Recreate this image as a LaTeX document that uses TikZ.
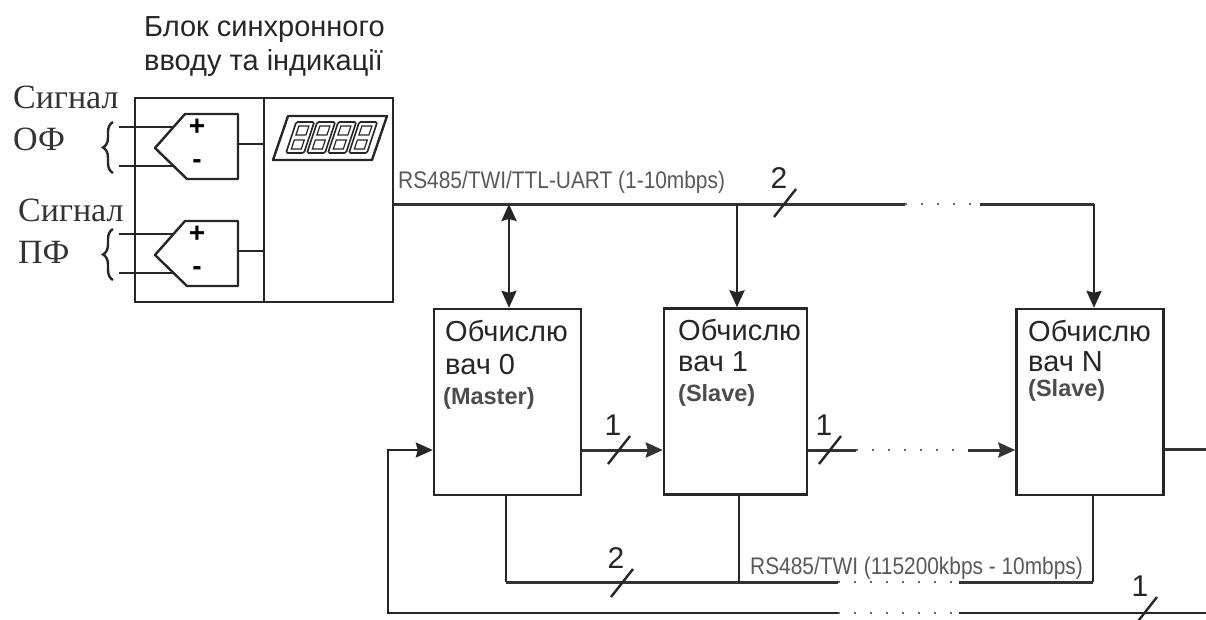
\documentclass[tikz,border=0pt]{standalone}
\usepackage{fontspec}
\usepackage{graphicx}
\setmainfont{Liberation Sans}
\newfontfamily\sigfont{Liberation Serif}
\usetikzlibrary{arrows.meta,decorations.pathreplacing}
\tikzset{
  wire/.style={line width=2.4pt,draw=black!85},
  bus/.style={line width=3pt,draw=black!80},
  gap/.style={line width=2.4pt,draw=black!60,dash pattern=on 2pt off 14pt},
  block/.style={draw=black!85,line width=2.4pt,fill=white,inner sep=0pt,minimum width=147pt,minimum height=186pt},
  title/.style={font=\fontsize{29}{34}\selectfont,align=left,text=black!85},
  siglabel/.style={font=\fontsize{34}{38}\sigfont,anchor=west,inner sep=0pt,text=black!80},
  complabel/.style={font=\fontsize{29}{33}\selectfont,anchor=west,inner sep=0pt,text=black!85},
  rolelabel/.style={font=\fontsize{23.5}{26}\selectfont\bfseries,anchor=west,inner sep=0pt,text=black!70},
  buslabel/.style={font=\fontsize{24}{26}\selectfont,anchor=west,inner sep=0pt,text=black!65},
  ticklabel/.style={font=\fontsize{30}{32}\selectfont,inner sep=0pt,text=black!85}
}
\begin{document}
\begin{tikzpicture}[x=1pt,y=-1pt,>={Stealth[length=17pt,width=15pt,inset=2pt]}]
    \useasboundingbox (0,0) rectangle (1206,619);

    % input and display unit
    \node[title,anchor=west,inner sep=0pt] (unittitle) at (144,47) {Блок синхронного\\вводу та індикації};
    \node[draw=black!85,line width=2.4pt,inner sep=0pt,minimum width=258pt,minimum height=204pt] (unit) at (264,200) {};
    \draw[wire] (unit.north -| 264,0) -- (unit.south -| 264,0);

    \node[siglabel] (sigA) at (13,97) {Сигнал};
    \node[siglabel] (nameA) at (13,139) {ОФ};
    \node[siglabel] (sigB) at (18,210) {Сигнал};
    \node[siglabel] (nameB) at (18,252) {ПФ};

    % amplifiers
    \foreach \n/\y in {A/0,B/107} {
      \begin{scope}[shift={(0,\y)}]
        \coordinate (in\n p) at (173.5,127);
        \coordinate (in\n m) at (173.5,166);
        \coordinate (out\n) at (238,144);
        \draw[wire,line join=round] (155,148) -- (185,114) -- (238,114) -- (238,179) -- (187,179) -- cycle;
        \draw[wire] (119,127) -- (in\n p);
        \draw[wire] (119,166) -- (in\n m);
        \draw[wire] (out\n) -- (out\n -| unit.center);
        \node[font=\fontsize{28}{28}\selectfont\bfseries,inner sep=0pt] (plus\n) at (197,127) {+};
        \node[font=\fontsize{28}{28}\selectfont\bfseries,inner sep=0pt] (minus\n) at (197,164) {-};
        \draw[wire,decorate,decoration={brace,amplitude=10pt}] (113,173) -- (113,122);
      \end{scope}
    }

    % display
    \draw[wire,line join=round] (273,160) -- (288,116) -- (387,116) -- (372,160) -- cycle;
    \foreach \d in {0,1,2,3} {
      \begin{scope}[shift={(286+\d*21,153)},xslant=0.33]
        \draw[line width=1.6pt,black!85,rounded corners=1.5pt] (0,0) rectangle (18,-31);
        \draw[line width=1.2pt,black!85] (4,-4) rectangle (14,-13) (4,-18) rectangle (14,-27);
      \end{scope}
    }

    % computing blocks
    \node[block] (comp0) at (507.5,402) {};
    \node[block,minimum width=143pt] (comp1) at (735.5,401.5) {};
    \node[block] (compN) at (1090,402) {};

    \node[complabel] (nameC0) at (445,331) {Обчислю};
    \node[complabel] (numC0) at (445,365) {вач 0};
    \node[rolelabel] (roleC0) at (443,398) {(Master)};
    \node[complabel] (nameC1) at (678,330) {Обчислю};
    \node[complabel] (numC1) at (678,362) {вач 1};
    \node[rolelabel] (roleC1) at (678,395) {(Slave)};
    \node[complabel] (nameCN) at (1028,331) {Обчислю};
    \node[complabel] (numCN) at (1028,362) {вач N};
    \node[rolelabel] (roleCN) at (1028,390) {(Slave)};

    % upper bus
    \node[buslabel] (toplabel) at (398,182) {\scalebox{0.87}[1]{RS485/TWI/TTL-UART (1-10mbps)}};
    \coordinate (busstart) at (393,204);
    \coordinate (tap0) at (509,204);
    \coordinate (tap1) at (737,204);
    \coordinate (busgapA) at (905,204);
    \coordinate (busgapB) at (980,204);
    \coordinate (tapN) at (1094,204);
    \draw[bus] (busstart) -- (busgapA);
    \draw[gap] (busgapA) -- (busgapB);
    \draw[bus] (busgapB) -- (tapN);
    \draw[wire,<->] (tap0) -- (tap0 |- comp0.north);
    \draw[wire,->] (tap1) -- (tap1 |- comp1.north);
    \draw[wire,->] (tapN) -- (tapN |- compN.north);

    % ring
    \coordinate (ringgapA) at (856,450);
    \coordinate (ringgapB) at (968,450);
    \coordinate (ringout) at (1206,449);
    \draw[bus,->] (comp0.east |- 0,450) -- (comp1.west |- 0,450);
    \draw[bus] (comp1.east |- 0,450) -- (ringgapA);
    \draw[gap] (ringgapA) -- (ringgapB);
    \draw[bus,->] (ringgapB) -- (compN.west |- 0,450);
    \draw[bus] (compN.east |- ringout) -- (ringout);

    % return line
    \coordinate (backcorner) at (388,613);
    \coordinate (backgapA) at (838,613);
    \coordinate (backgapB) at (959,613);
    \coordinate (backend) at (1206,613);
    \draw[wire,->] (backgapA) -- (backcorner) |- (comp0.west |- 0,450);
    \draw[gap] (backgapA) -- (backgapB);
    \draw[wire] (backgapB) -- (backend);

    % lower bus
    \node[buslabel] (lowlabel) at (750,568) {\scalebox{0.87}[1]{RS485/TWI (115200kbps - 10mbps)}};
    \coordinate (lowA) at (506,582);
    \coordinate (lowB) at (739,582);
    \coordinate (lowgapA) at (838,582);
    \coordinate (lowgapB) at (959,582);
    \coordinate (lowN) at (1093,582);
    \draw[wire] (lowA |- comp0.south) -- (lowA);
    \draw[bus] (lowA) -- (lowgapA);
    \draw[wire] (lowB |- comp1.south) -- (lowB);
    \draw[gap] (lowgapA) -- (lowgapB);
    \draw[bus] (lowgapB) -- (lowN);
    \draw[wire] (lowN) -- (lowN |- compN.south);

    % width marks
    \foreach \n/\x/\y/\lab in {a/785/203/2,b/619/450/1,c/830/450/1,d/622/583/2,e/1146/611/1} {
      \coordinate (mark\n) at (\x,\y);
      \draw[wire] ([shift={(-11,14)}]mark\n) -- ([shift={(11,-14)}]mark\n);
      \node[ticklabel] (tick\n) at (\x-6,\y-25) {\lab};
    }
\end{tikzpicture}
\end{document}
